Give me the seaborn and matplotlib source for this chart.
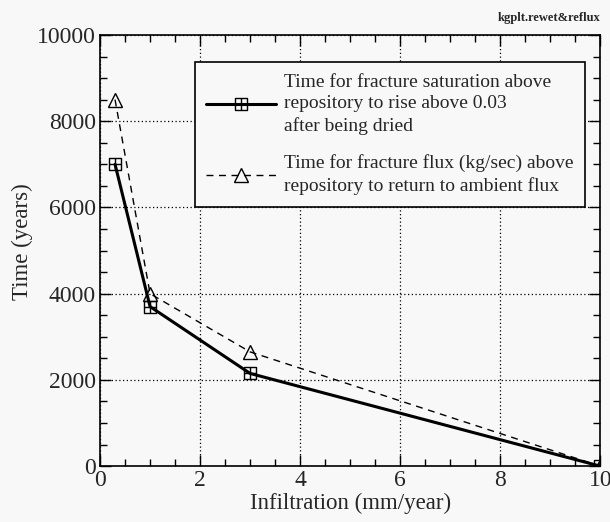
import numpy as np
import pandas as pd
import matplotlib
matplotlib.use("Agg")
import matplotlib.pyplot as plt
from matplotlib.path import Path
from matplotlib.ticker import MultipleLocator
import seaborn as sns

# data
infil_sat = [0.3, 1, 3, 10]
time_sat = [7000, 3700, 2150, 0]
infil_flux = [0.3, 1, 3, 10]
time_flux = [8500, 4000, 2650, 0]

label_sat = "Time for fracture saturation above\nrepository to rise above 0.03\nafter being dried"
label_flux = "Time for fracture flux (kg/sec) above\nrepository to return to ambient flux"

sns.set_style("ticks")
plt.rcParams['font.family'] = ['Liberation Serif', 'DejaVu Serif']

# square with a cross inside
verts = [(-1, -1), (1, -1), (1, 1), (-1, 1), (-1, -1),
         (0, -1), (0, 1), (-1, 0), (1, 0)]
codes = [Path.MOVETO, Path.LINETO, Path.LINETO, Path.LINETO, Path.CLOSEPOLY,
         Path.MOVETO, Path.LINETO, Path.MOVETO, Path.LINETO]
box_cross = Path(verts, codes)

fig = plt.figure(figsize=(6.1, 5.22), dpi=100, facecolor='#f8f8f8')
ax = fig.add_axes([0.164, 0.107, 0.820, 0.826])
ax.set_facecolor('#f8f8f8')

sns.lineplot(x=infil_sat, y=time_sat, ax=ax, color='black', linewidth=2.2,
             marker=box_cross, markersize=9, markerfacecolor='none',
             markeredgecolor='black', markeredgewidth=1.0, label=label_sat)
sns.lineplot(x=infil_flux, y=time_flux, ax=ax, color='black', linewidth=1.0,
             linestyle=(0, (5, 4)), marker='^', markersize=10,
             markerfacecolor='none', markeredgecolor='black',
             markeredgewidth=1.0, label=label_flux)

ax.set_xlim(0, 10)
ax.set_ylim(0, 10000)
ax.xaxis.set_major_locator(MultipleLocator(2))
ax.xaxis.set_minor_locator(MultipleLocator(0.5))
ax.yaxis.set_major_locator(MultipleLocator(2000))
ax.yaxis.set_minor_locator(MultipleLocator(500))
ax.tick_params(which='both', direction='in', top=True, right=True, color='black')
ax.tick_params(which='major', length=8, width=1, labelsize=17, pad=3)
ax.tick_params(which='minor', length=5, width=1)
ax.grid(True, which='major', color='black', linestyle=(0, (1, 2)), linewidth=0.9)
for s in ax.spines.values():
    s.set_color('black')
    s.set_linewidth(1.2)

ax.set_xlabel('Infiltration (mm/year)', fontsize=16.5, labelpad=1)
ax.set_ylabel('Time (years)', fontsize=16.5, labelpad=1)
ax.yaxis.set_label_coords(-0.135, 0.52)

leg = ax.legend(loc='upper right', bbox_to_anchor=(0.97, 0.937), fontsize=14,
                frameon=True, fancybox=False, edgecolor='black', framealpha=1,
                facecolor='#f8f8f8', handlelength=3.6, handletextpad=0.4,
                labelspacing=1.0, borderpad=0.6, borderaxespad=0)
leg.get_frame().set_linewidth(1.2)
for t in leg.get_texts():
    t.set_linespacing(1.35)

fig.text(0.985, 0.965, 'kgplt.rewet&reflux', ha='right', va='center',
         fontsize=9, fontweight='bold')

fig.savefig('out.png', dpi=100, facecolor=fig.get_facecolor())
